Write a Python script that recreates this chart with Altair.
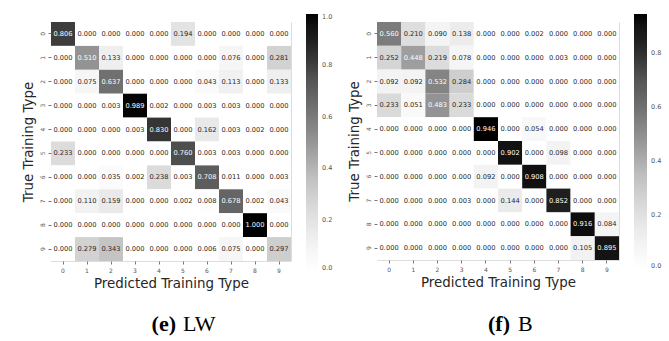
import altair as alt
import pandas as pd

classes = list(range(10))

# (e) LW confusion matrix, rows = true type, columns = predicted type
lw_rows = [
    [0.806, 0.000, 0.000, 0.000, 0.000, 0.194, 0.000, 0.000, 0.000, 0.000],
    [0.000, 0.510, 0.133, 0.000, 0.000, 0.000, 0.000, 0.076, 0.000, 0.281],
    [0.000, 0.075, 0.637, 0.000, 0.000, 0.000, 0.043, 0.113, 0.000, 0.133],
    [0.000, 0.000, 0.003, 0.989, 0.002, 0.000, 0.003, 0.003, 0.000, 0.000],
    [0.000, 0.000, 0.000, 0.003, 0.830, 0.000, 0.162, 0.003, 0.002, 0.000],
    [0.233, 0.000, 0.000, 0.000, 0.000, 0.760, 0.003, 0.003, 0.000, 0.000],
    [0.000, 0.000, 0.035, 0.002, 0.238, 0.003, 0.708, 0.011, 0.000, 0.003],
    [0.000, 0.110, 0.159, 0.000, 0.000, 0.002, 0.008, 0.678, 0.002, 0.043],
    [0.000, 0.000, 0.000, 0.000, 0.000, 0.000, 0.000, 0.000, 1.000, 0.000],
    [0.000, 0.279, 0.343, 0.000, 0.000, 0.000, 0.006, 0.075, 0.000, 0.297],
]

# (f) B confusion matrix
b_rows = [
    [0.560, 0.210, 0.090, 0.138, 0.000, 0.000, 0.002, 0.000, 0.000, 0.000],
    [0.252, 0.448, 0.219, 0.078, 0.000, 0.000, 0.000, 0.003, 0.000, 0.000],
    [0.092, 0.092, 0.532, 0.284, 0.000, 0.000, 0.000, 0.000, 0.000, 0.000],
    [0.233, 0.051, 0.483, 0.233, 0.000, 0.000, 0.000, 0.000, 0.000, 0.000],
    [0.000, 0.000, 0.000, 0.000, 0.946, 0.000, 0.054, 0.000, 0.000, 0.000],
    [0.000, 0.000, 0.000, 0.000, 0.000, 0.902, 0.000, 0.098, 0.000, 0.000],
    [0.000, 0.000, 0.000, 0.000, 0.092, 0.000, 0.908, 0.000, 0.000, 0.000],
    [0.000, 0.000, 0.000, 0.003, 0.000, 0.144, 0.000, 0.852, 0.000, 0.000],
    [0.000, 0.000, 0.000, 0.000, 0.000, 0.000, 0.000, 0.000, 0.916, 0.084],
    [0.000, 0.000, 0.000, 0.000, 0.000, 0.000, 0.000, 0.000, 0.105, 0.895],
]

lw_ticks = [0.0, 0.2, 0.4, 0.6, 0.8, 1.0]
b_ticks = [0.0, 0.2, 0.4, 0.6, 0.8]

x_title = "Predicted Training Type"
y_title = "True Training Type"

greys = ["#ffffff", "#f0f0f0", "#d9d9d9", "#bdbdbd", "#969696",
         "#737373", "#525252", "#252525", "#000000"]


def to_frame(rows):
    vmax = max(max(r) for r in rows)
    recs = []
    for i, r in enumerate(rows):
        for j, v in enumerate(r):
            recs.append({"true": classes[i], "pred": classes[j], "value": v,
                         "label": f"{v:.3f}", "norm": v / vmax})
    return pd.DataFrame(recs), vmax


def panel(rows, ticks, w, h, cap_a, cap_b, xa, xb, legx, leglen, legthick):
    df, vmax = to_frame(rows)
    dom = [vmax * k / 8 for k in range(9)]
    base = alt.Chart(df).encode(
        x=alt.X("pred:O", title=x_title,
                axis=alt.Axis(labelAngle=0, labelFontSize=6, labelColor="#555555",
                              tickColor="#777777", tickSize=3, labelPadding=3,
                              titlePadding=3, titleFontSize=13.4, titleColor="#262626",
                              titleFontWeight="normal", domain=False)),
        y=alt.Y("true:O", title=y_title,
                axis=alt.Axis(labelAngle=270, labelFontSize=6, labelColor="#555555",
                              tickColor="#777777", tickSize=3, labelPadding=3,
                              titlePadding=4, titleFontSize=13.4, titleColor="#262626",
                              titleFontWeight="normal", domain=False)),
    )
    rect = base.mark_rect().encode(
        color=alt.Color("value:Q", scale=alt.Scale(domain=dom, range=greys),
                        legend=alt.Legend(orient="none", legendX=legx, legendY=-8,
                                          direction="vertical", title=None,
                                          gradientLength=leglen,
                                          gradientThickness=legthick,
                                          gradientStrokeWidth=0,
                                          values=ticks, format=".1f",
                                          labelFontSize=6.5, labelColor="#555555",
                                          labelOffset=4))
    )
    text = base.mark_text(font="DejaVu Sans", fontSize=6.7).encode(
        text="label:N",
        color=alt.condition("datum.norm > 0.43", alt.value("#ffffff"), alt.value("#262626")),
    )
    cap1 = alt.Chart(pd.DataFrame({"t": [cap_a]})).mark_text(
        font="Liberation Serif", fontSize=22, fontWeight="bold", align="right",
        baseline="alphabetic", color="#000000"
    ).encode(text="t:N", x=alt.value(xa), y=alt.value(309))
    cap2 = alt.Chart(pd.DataFrame({"t": [cap_b]})).mark_text(
        font="Liberation Serif", fontSize=22, fontWeight="normal", align="left",
        baseline="alphabetic", color="#000000"
    ).encode(text="t:N", x=alt.value(xb), y=alt.value(309))
    return alt.layer(rect, text, cap1, cap2).properties(width=w, height=h)


left = panel(lw_rows, lw_ticks, 240, 239, "(e)", "LW", 125, 132, 255, 257, 12)
right = panel(b_rows, b_ticks, 242, 238, "(f)", "B", 133, 141, 257, 255, 13)

chart = alt.hconcat(left, right, spacing=12).resolve_scale(color="independent").properties(
    padding={"left": 20, "top": 13, "right": 0, "bottom": 0}
).configure_view(stroke=None).configure(font="DejaVu Sans")

chart.save("out.html", embed_options={"renderer": "svg", "actions": False})
